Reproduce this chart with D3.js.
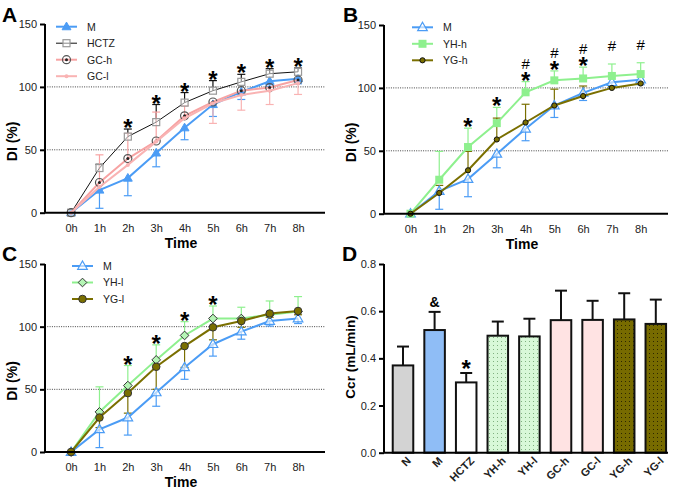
<!DOCTYPE html>
<html><head><meta charset="utf-8">
<script src="https://cdn.jsdelivr.net/npm/d3@7"></script>
<style>body{margin:0;background:#fff} svg{display:block} text{font-family:"Liberation Sans",Arial,sans-serif}</style>
</head><body><svg id="c" width="675" height="491"></svg>
<script>
// ---------- data ----------
const times = ["0h","1h","2h","3h","4h","5h","6h","7h","8h"];
const yTicksDI = [0,50,100,150];
const M_val   = [0,18,27.5,47.5,67.5,86,96,104.5,106.5];
const M_err   = [0,14.5,14,11,9.5,9.5,6,4,4];
const HCTZ_val= [0,35.5,60.5,72,87.5,97,104,110.5,112];
const HCTZ_err= [0,3,6,14,8,8,6,4,3];
const GCh_val = [0,24,43,57,77,88,97,99.5,105.5];
const GCh_err = [0,22,20,23,8,0,0,0,0];
const GCl_val = [0,20.5,38,56.5,75,87,93.5,97,103];
const GCl_err = [0,0,0,0,0,16,12,11,9];
const YHh_val = [0,27,53,72,96.5,106,107.5,109.5,111];
const YHh_err = [0,22.5,15,12.5,8.5,7.5,9,9.5,9];
const YGh_val = [0,16.5,34.5,59,72.5,86,93.5,100,103.5];
const YGh_err = [0,6,15,17,14.5,13,8,1,1];
const YHl_val = [0,32,53,73.5,93,106.5,106.5,109.5,112];
const YHl_err = [0,20,16,12,11,10,9,11,12];
const YGl_val = [0,27.5,47,68,84.5,99.5,104.5,110.5,112.5];
const YGl_err = [0,8,16,18,17,10,5,3,3];
// significance marks, listed bottom to top
const annA = [[],[],["*"],["*"],["*"],["*"],["*"],["*"],["*"]];
const annB = [[],[],["*"],["*"],["*","#"],["*","#"],["*","#"],["","#"],["","#"]];
const annC = [[],[],["*"],["*"],["*"],["*"],[],[],[]];

const groups  = ["N","M","HCTZ","YH-h","YH-l","GC-h","GC-l","YG-h","YG-l"];
const ccr     = [0.37,0.52,0.298,0.496,0.493,0.562,0.563,0.565,0.546];
const ccr_err = [0.08,0.077,0.04,0.06,0.075,0.125,0.081,0.111,0.103];
const ccrMarks= ["","&","*","","","","","",""];
const yTicksCcr = [0,0.2,0.4,0.6,0.8];

// ---------- styles ----------
const BLUE="#4b9cf5", PINK="#f7a3a3", PINK2="#f9b3b3", GREEN="#8ef08e", OLIVE="#7a6f00";

const svg = d3.select("#c");
const defs = svg.append("defs");
function dotPattern(id, bg, dot){
  const p = defs.append("pattern").attr("id",id).attr("patternUnits","userSpaceOnUse").attr("width",4).attr("height",4);
  p.append("rect").attr("width",4).attr("height",4).attr("fill",bg);
  p.append("rect").attr("x",1).attr("y",1).attr("width",1).attr("height",1).attr("fill",dot);
}
dotPattern("dotG","#d8f8d8","#7fb07f");
dotPattern("dotO","#776b00","#2c2700");

function marker(g, type, x, y, s){
  const col = s.color;
  if(type==="triF"){ g.append("path").attr("d",d3.symbol(d3.symbolTriangle,34)()).attr("transform",`translate(${x},${y+0.5})`).attr("fill",col).attr("stroke",col); }
  else if(type==="triO"){ g.append("path").attr("d",d3.symbol(d3.symbolTriangle,40)()).attr("transform",`translate(${x},${y+0.5})`).attr("fill","#fff").attr("fill-opacity",0.6).attr("stroke",col).attr("stroke-width",1.2); }
  else if(type==="sqO"){ g.append("rect").attr("x",x-3.5).attr("y",y-3.5).attr("width",7).attr("height",7).attr("fill","#fff").attr("fill-opacity",0.5).attr("stroke","#999").attr("stroke-width",1.2); }
  else if(type==="sqF"){ g.append("rect").attr("x",x-4).attr("y",y-4).attr("width",8).attr("height",8).attr("fill",col); }
  else if(type==="cdot"){ g.append("circle").attr("cx",x).attr("cy",y).attr("r",4).attr("fill","none").attr("stroke","#555").attr("stroke-width",1.2);
     g.append("circle").attr("cx",x).attr("cy",y).attr("r",1.5).attr("fill","#222"); }
  else if(type==="dotS"){ g.append("circle").attr("cx",x).attr("cy",y).attr("r",2).attr("fill",col); }
  else if(type==="cO"){ g.append("circle").attr("cx",x).attr("cy",y).attr("r",2.6).attr("fill",OLIVE).attr("stroke","#111").attr("stroke-width",1); }
  else if(type==="cF"){ g.append("circle").attr("cx",x).attr("cy",y).attr("r",3.8).attr("fill",OLIVE).attr("stroke","#333").attr("stroke-width",1); }
  else if(type==="dia"){ g.append("path").attr("d",d3.symbol(d3.symbolDiamond2||d3.symbolDiamond,48)()).attr("transform",`translate(${x},${y})`).attr("fill","#b5f5b5").attr("stroke","#333").attr("stroke-width",1); }
}

function linePanel(cfg){
  const g = svg.append("g");
  const x = d3.scaleLinear().domain([-0.92,8.95]).range(cfg.xr);
  const y = d3.scaleLinear().domain([0,150]).range(cfg.yr);
  [50,100].forEach(v=>g.append("line").attr("x1",cfg.xr[0]).attr("x2",cfg.xr[1]).attr("y1",y(v)).attr("y2",y(v))
     .attr("stroke","#444").attr("stroke-width",1).attr("stroke-dasharray","1,1.3"));
  cfg.series.forEach(s=>{
    s.vals.forEach((v,i)=>{
      const e=s.errs[i]; if(!e) return;
      const y2 = y(v + s.dir*e);
      g.append("line").attr("x1",x(i)).attr("x2",x(i)).attr("y1",y(v)).attr("y2",y2).attr("stroke",s.ecolor||s.color).attr("stroke-width",1.2);
      g.append("line").attr("x1",x(i)-4).attr("x2",x(i)+4).attr("y1",y2).attr("y2",y2).attr("stroke",s.ecolor||s.color).attr("stroke-width",1.2);
    });
  });
  cfg.series.forEach(s=>{
    g.append("path").datum(s.vals).attr("fill","none").attr("stroke",s.color).attr("stroke-width",s.lw)
      .attr("d",d3.line().x((d,i)=>x(i)).y(d=>y(d)));
    s.vals.forEach((v,i)=>marker(g,s.marker,x(i),y(v),s));
  });
  g.append("line").attr("x1",cfg.xr[0]).attr("x2",cfg.xr[1]).attr("y1",y(0)).attr("y2",y(0)).attr("stroke","#000").attr("stroke-width",2);
  const ya = g.append("g").attr("transform",`translate(${cfg.xr[0]},0)`)
    .call(d3.axisLeft(y).tickValues(yTicksDI).tickSize(5).tickSizeOuter(0).tickPadding(3));
  ya.select(".domain").attr("stroke-width",2).attr("d",`M0,${y(150)}V${y(0)}`);
  ya.selectAll(".tick line").attr("stroke-width",2);
  ya.selectAll("text").attr("font-size",11).attr("fill","#222").attr("font-family","Liberation Sans");
  const xa = g.append("g").attr("transform",`translate(0,${y(0)})`)
    .call(d3.axisBottom(x).tickValues(d3.range(9)).tickFormat(i=>times[i]).tickSize(0).tickPadding(11.5));
  xa.select(".domain").remove();
  xa.selectAll("text").attr("font-size",11).attr("fill","#222").attr("font-family","Liberation Sans");
  g.append("text").attr("x",(cfg.xr[0]+cfg.xr[1])/2-4).attr("y",y(0)+35).attr("text-anchor","middle").attr("font-weight","bold").attr("font-size",14).text("Time");
  g.append("text").attr("transform",`translate(${cfg.xr[0]-28},${(y(0)+y(150))/2+23}) rotate(-90)`).attr("text-anchor","middle").attr("font-weight","bold").attr("font-size",14).text("DI (%)");
  g.append("text").attr("x",cfg.letter[0]).attr("y",cfg.letter[1]).attr("font-weight","bold").attr("font-size",21).text(cfg.letterText);
  cfg.series.forEach((s,k)=>{
    const ly = cfg.leg[1] + k*16.5;
    g.append("line").attr("x1",cfg.leg[0]).attr("x2",cfg.leg[0]+21).attr("y1",ly).attr("y2",ly).attr("stroke",s.color).attr("stroke-width",s.lw);
    marker(g,s.marker,cfg.leg[0]+10.5,ly,s);
    g.append("text").attr("x",cfg.leg[0]+31).attr("y",ly+3.8).attr("font-size",10.5).attr("fill","#222").text(s.name);
  });
  // significance marks: one text element per time point, stacked tspans
  cfg.ann.forEach((stack,i)=>{
    if(!stack.length) return;
    const top = d3.max(cfg.series, s=> s.dir>0 ? s.vals[i]+s.errs[i] : s.vals[i]);
    const starBase = y(top) + 7;           // baseline of the first row (asterisk)
    const t = g.append("text").attr("text-anchor","middle");
    stack.forEach((ch,k)=>{
      if(ch==="*") t.append("tspan").attr("x",x(i)).attr("y",starBase).attr("font-weight","bold").attr("font-size",24).text("*");
      else if(ch==="#") t.append("tspan").attr("x",x(i)).attr("y",starBase - 20*k + (k?0:-7)).attr("font-size",15).text("#");
    });
  });
}

linePanel({xr:[45,325], yr:[212.7,24], letter:[2,22], letterText:"A", leg:[56,26.7], ann:annA,
  series:[
    {name:"M", vals:M_val, errs:M_err, dir:-1, color:BLUE, lw:2, marker:"triF"},
    {name:"HCTZ", vals:HCTZ_val, errs:HCTZ_err, dir:1, color:"#111", lw:1, marker:"sqO"},
    {name:"GC-h", vals:GCh_val, errs:GCh_err, dir:1, color:PINK, lw:2, marker:"cdot"},
    {name:"GC-l", vals:GCl_val, errs:GCl_err, dir:-1, color:PINK2, lw:2, marker:"dotS"}
  ]});
linePanel({xr:[384,668], yr:[213.7,25], letter:[343,22], letterText:"B", leg:[412,27.3], ann:annB,
  series:[
    {name:"M", vals:M_val, errs:M_err, dir:-1, color:BLUE, lw:2, marker:"triO"},
    {name:"YH-h", vals:YHh_val, errs:YHh_err, dir:1, color:GREEN, lw:2, marker:"sqF"},
    {name:"YG-h", vals:YGh_val, errs:YGh_err, dir:1, color:OLIVE, lw:2, marker:"cO"}
  ]});
linePanel({xr:[45,325], yr:[452,264], letter:[2,261], letterText:"C", leg:[72,266], ann:annC,
  series:[
    {name:"M", vals:M_val, errs:M_err, dir:-1, color:BLUE, lw:2, marker:"triO"},
    {name:"YH-l", vals:YHl_val, errs:YHl_err, dir:1, color:GREEN, lw:2, marker:"dia"},
    {name:"YG-l", vals:YGl_val, errs:YGl_err, dir:-1, color:OLIVE, lw:2, marker:"cF"}
  ]});

// ---------- panel D ----------
(function(){
  const g = svg.append("g");
  const fills = ["#d3d3d3","#8fbdf6","#ffffff","url(#dotG)","url(#dotG)","#ffe3e3","#ffe3e3","url(#dotO)","url(#dotO)"];
  const x = d3.scaleBand().domain(groups).range([387.2,671.6]).paddingInner(0.35).paddingOuter(0.175);
  const y = d3.scaleLinear().domain([0,0.8]).range([452.7,264]);
  groups.forEach((gname,i)=>{
    const cx = x(gname)+x.bandwidth()/2, top = y(ccr[i]+ccr_err[i]);
    g.append("line").attr("x1",cx).attr("x2",cx).attr("y1",y(ccr[i])).attr("y2",top).attr("stroke","#111").attr("stroke-width",2);
    g.append("line").attr("x1",cx-6).attr("x2",cx+6).attr("y1",top).attr("y2",top).attr("stroke","#111").attr("stroke-width",2);
    g.append("rect").attr("x",x(gname)).attr("y",y(ccr[i])).attr("width",x.bandwidth()).attr("height",y(0)-y(ccr[i]))
      .attr("fill",fills[i]).attr("stroke","#111").attr("stroke-width",2);
    if(ccrMarks[i]==="&") g.append("text").attr("x",cx).attr("y",top-5).attr("text-anchor","middle").attr("font-weight","bold").attr("font-size",14).text("&");
    if(ccrMarks[i]==="*") g.append("text").attr("x",cx).attr("y",top+4).attr("text-anchor","middle").attr("font-weight","bold").attr("font-size",24).text("*");
    g.append("text").attr("transform",`translate(${cx+6},${y(0)+6}) rotate(-45)`).attr("text-anchor","end").attr("dy","0.35em")
      .attr("font-weight","bold").attr("font-size",11).attr("fill","#222").text(gname);
  });
  g.append("line").attr("x1",384).attr("x2",668).attr("y1",y(0)).attr("y2",y(0)).attr("stroke","#000").attr("stroke-width",2);
  const ya = g.append("g").attr("transform","translate(384,0)")
    .call(d3.axisLeft(y).tickValues(yTicksCcr).tickFormat(d3.format(".1f")).tickSize(5).tickSizeOuter(0).tickPadding(3));
  ya.select(".domain").attr("stroke-width",2).attr("d",`M0,${y(0.8)}V${y(0)}`);
  ya.selectAll(".tick line").attr("stroke-width",2);
  ya.selectAll("text").attr("font-size",11).attr("fill","#222").attr("font-family","Liberation Sans");
  g.append("text").attr("transform",`translate(${355},${357}) rotate(-90)`).attr("text-anchor","middle").attr("font-weight","bold").attr("font-size",13.5).text("Ccr (mL/min)");
  g.append("text").attr("x",342).attr("y",261).attr("font-weight","bold").attr("font-size",21).text("D");
})();
</script></body></html>
